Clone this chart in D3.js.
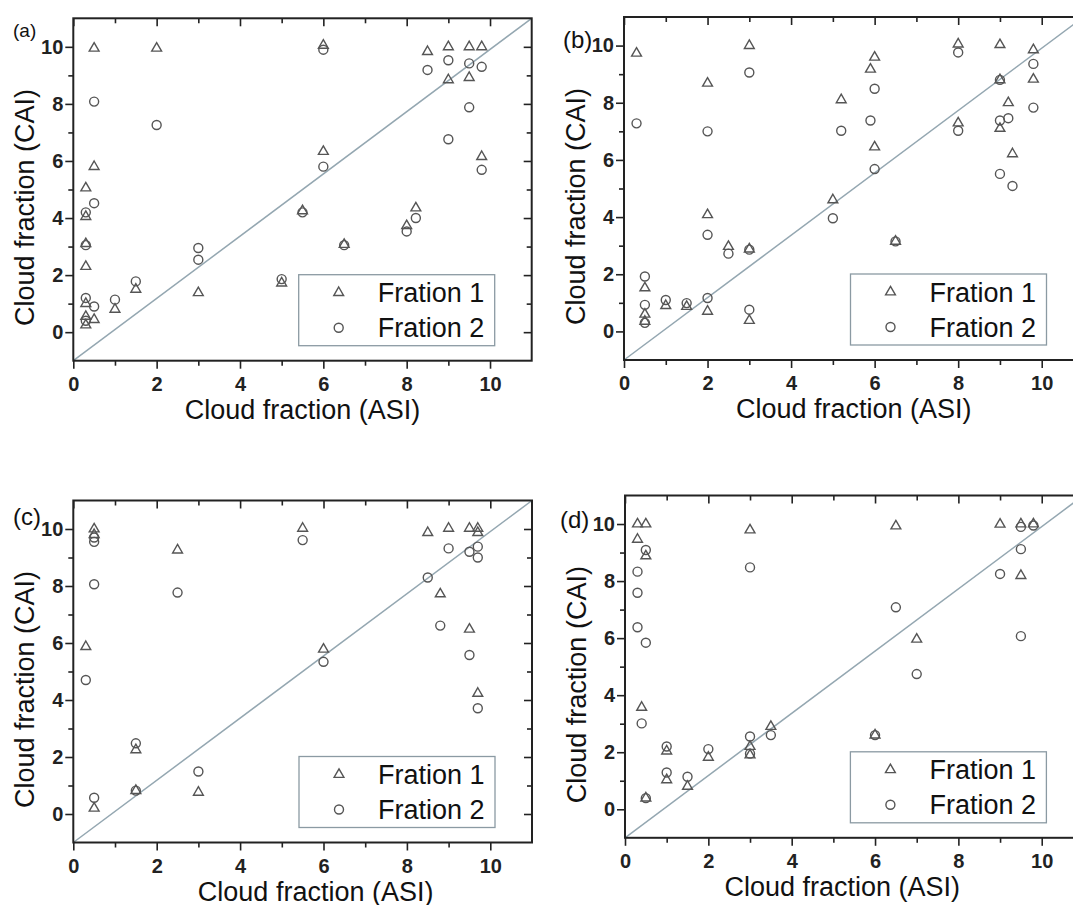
<!DOCTYPE html>
<html>
<head>
<meta charset="utf-8">
<script src="https://cdn.jsdelivr.net/npm/d3@7"></script>
<style>
  body { margin: 0; background: #fff; }
  svg { display: block; }
</style>
</head>
<body>
<svg id="chart" width="1073" height="905"></svg>
<script>
// axis setup shared by the four panels
const xDomain = [0, 11];
const yDomain = [-1, 11];
const majorTicks = [0, 2, 4, 6, 8, 10];
const minorTicks = [1, 3, 5, 7, 9];
const seriesNames = ["Fration 1", "Fration 2"];
const xTitle = "Cloud fraction (ASI)";
const yTitle = "Cloud fraction (CAI)";

// (a)
const aFration1 = [[0.3,5.05],[0.3,4.05],[0.3,3.1],[0.3,2.3],[0.3,1.0],[0.3,0.55],[0.3,0.25],[0.5,9.95],[0.5,5.8],[0.5,0.44],
  [1,0.8],[1.5,1.5],[2,9.95],[3,1.38],[5,1.72],[5.5,4.25],[6,10.05],[6,6.33],[6.5,3.07],[8,3.73],[8.22,4.35],[8.5,9.83],
  [9,10],[9,8.84],[9.5,10],[9.5,8.92],[9.8,10],[9.8,6.15]];
const aFration2 = [[0.3,4.2],[0.3,3.05],[0.3,1.2],[0.3,0.4],[0.5,8.08],[0.5,4.52],[0.5,0.9],[1,1.14],[1.5,1.78],[2,7.26],
  [3,2.95],[3,2.54],[5,1.86],[5.5,4.2],[6,9.9],[6,5.8],[6.5,3.05],[8,3.53],[8.22,4.0],[8.5,9.19],[9,9.53],[9,6.76],
  [9.5,9.42],[9.5,7.88],[9.8,9.3],[9.8,5.69]];

// (b)
const bFration1 = [[0.3,9.73],[0.5,1.52],[0.5,0.6],[0.5,0.35],[1,0.9],[1.5,0.87],[2,8.68],[2,4.08],[2,0.7],[2.5,2.97],
  [3,10.0],[3,2.88],[3,0.38],[5,4.6],[5.2,8.1],[5.9,9.17],[6,9.59],[6,6.45],[6.5,3.15],[8,10.05],[8,7.29],[9,10.03],
  [9,8.8],[9,7.1],[9.2,8.0],[9.3,6.21],[9.8,9.85],[9.8,8.82]];
const bFration2 = [[0.3,7.28],[0.5,1.92],[0.5,0.93],[0.5,0.3],[1,1.1],[1.5,0.99],[2,7.0],[2,3.38],[2,1.17],[2.5,2.72],
  [3,9.06],[3,2.86],[3,0.76],[5,3.96],[5.2,7.02],[5.9,7.38],[6,8.49],[6,5.68],[6.5,3.15],[8,9.76],[8,7.02],[9,8.8],
  [9,7.38],[9,5.51],[9.2,7.46],[9.3,5.09],[9.8,9.36],[9.8,7.83]];

// (c)
const cFration1 = [[0.3,5.87],[0.5,10.0],[0.5,9.8],[0.5,0.2],[1.5,2.25],[1.5,0.82],[2.5,9.26],[3,0.76],[5.5,10.02],
  [6,5.78],[8.5,9.87],[8.8,7.72],[9,10.02],[9.5,10.02],[9.5,6.48],[9.7,10.02],[9.7,9.87],[9.7,4.23]];
const cFration2 = [[0.3,4.7],[0.5,9.7],[0.5,9.55],[0.5,8.06],[0.5,0.57],[1.5,2.48],[1.5,0.82],[2.5,7.77],[3,1.49],
  [5.5,9.61],[6,5.34],[8.5,8.3],[8.8,6.61],[9,9.32],[9.5,9.2],[9.5,5.58],[9.7,9.38],[9.7,9.0],[9.7,3.71]];

// (d)
const dFration1 = [[0.3,10.0],[0.5,10.0],[0.3,9.46],[0.5,8.88],[0.4,3.57],[0.5,0.39],[1,2.04],[1,1.03],[1.5,0.8],[2,1.82],
  [3,9.79],[3,2.2],[3,1.9],[3.5,2.9],[6,2.6],[6.5,9.93],[7,5.96],[9,9.99],[9.5,10.0],[9.5,8.19],[9.8,10.0]];
const dFration2 = [[0.3,8.33],[0.3,7.59],[0.3,6.38],[0.5,9.09],[0.5,5.84],[0.4,3.01],[0.5,0.39],[1,2.2],[1,1.29],[1.5,1.14],
  [2,2.11],[3,8.48],[3,2.55],[3,1.95],[3.5,2.6],[6,2.6],[6.5,7.08],[7,4.74],[9,8.25],[9.5,9.9],[9.5,9.12],[9.5,6.07],[9.8,9.95]];

// where each panel sits on the page
const panels = [
  { label: "(a)", f1: aFration1, f2: aFration2, left: 73.3, top: 18.3, w: 458.4, h: 342.4, lx: 13, ly: 37, lsize: 19, tdx: 0 },
  { label: "(b)", f1: bFration1, f2: bFration2, left: 624, top: 17, w: 459.5, h: 343, lx: 563, ly: 48, lsize: 24, tdx: 0 },
  { label: "(c)", f1: cFration1, f2: cFration2, left: 73.3, top: 500.5, w: 458.7, h: 342, lx: 13, ly: 525, lsize: 24, tdx: 13 },
  { label: "(d)", f1: dFration1, f2: dFration2, left: 625, top: 495.5, w: 458.4, h: 342.3, lx: 560, ly: 528, lsize: 24, tdx: -12 }
];

const font = "'Liberation Sans', Arial, sans-serif";
const ink = "#222";
const markColor = "#555";
const tri = d3.symbol().type(d3.symbolTriangle).size(42);

const svg = d3.select("#chart").attr("font-family", font);

panels.forEach(p => {
  const x = d3.scaleLinear().domain(xDomain).range([p.left, p.left + p.w]);
  const y = d3.scaleLinear().domain(yDomain).range([p.top + p.h, p.top]);
  const g = svg.append("g");
  const bottom = p.top + p.h, right = p.left + p.w;

  // reference line, corner to corner
  g.append("line")
    .attr("x1", x(xDomain[0])).attr("y1", y(yDomain[0]))
    .attr("x2", x(xDomain[1])).attr("y2", y(yDomain[1]))
    .attr("stroke", "#94a7b1").attr("stroke-width", 1.5);

  // ticks
  const axisStyle = sel => {
    sel.select(".domain").remove();
    sel.selectAll("line").attr("stroke", ink).attr("stroke-width", 1.6);
    sel.selectAll("text").attr("fill", ink).attr("font-size", 20).attr("font-weight", "bold").attr("font-family", font);
  };
  g.append("g").attr("transform", `translate(0,${bottom})`)
    .call(d3.axisBottom(x).tickValues(majorTicks).tickSize(8).tickPadding(8).tickFormat(d3.format("d")))
    .call(axisStyle);
  g.append("g").attr("transform", `translate(0,${bottom})`)
    .call(d3.axisBottom(x).tickValues(minorTicks).tickSize(5).tickFormat(""))
    .call(axisStyle);
  g.append("g").attr("transform", `translate(${p.left},0)`)
    .call(d3.axisLeft(y).tickValues(majorTicks).tickSize(8).tickPadding(2).tickFormat(d3.format("d")))
    .call(axisStyle);
  g.append("g").attr("transform", `translate(${p.left},0)`)
    .call(d3.axisLeft(y).tickValues(minorTicks).tickSize(5).tickFormat(""))
    .call(axisStyle);
  // mirrored ticks, pointing in
  g.append("g").attr("transform", `translate(0,${p.top})`)
    .call(d3.axisTop(x).tickValues(majorTicks).tickSize(-8).tickFormat(""))
    .call(axisStyle);
  g.append("g").attr("transform", `translate(0,${p.top})`)
    .call(d3.axisTop(x).tickValues(minorTicks).tickSize(-5).tickFormat(""))
    .call(axisStyle);
  g.append("g").attr("transform", `translate(${right},0)`)
    .call(d3.axisRight(y).tickValues(majorTicks).tickSize(-8).tickFormat(""))
    .call(axisStyle);
  g.append("g").attr("transform", `translate(${right},0)`)
    .call(d3.axisRight(y).tickValues(minorTicks).tickSize(-5).tickFormat(""))
    .call(axisStyle);

  // frame
  g.append("rect")
    .attr("x", p.left).attr("y", p.top).attr("width", p.w).attr("height", p.h)
    .attr("fill", "none").attr("stroke", ink).attr("stroke-width", 2);

  // points
  g.append("g").selectAll("path").data(p.f1).join("path")
    .attr("d", tri)
    .attr("transform", d => `translate(${x(d[0])},${y(d[1])})`)
    .attr("fill", "none").attr("stroke", markColor).attr("stroke-width", 1.4);
  g.append("g").selectAll("circle").data(p.f2).join("circle")
    .attr("cx", d => x(d[0])).attr("cy", d => y(d[1])).attr("r", 4.5)
    .attr("fill", "none").attr("stroke", markColor).attr("stroke-width", 1.4);

  // legend
  const lgW = 196, lgH = 71;
  const lg = g.append("g").attr("transform", `translate(${right - 37 - lgW},${bottom - 15 - lgH})`);
  lg.append("rect").attr("width", lgW).attr("height", lgH)
    .attr("fill", "#fff").attr("stroke", "#8b9aa3").attr("stroke-width", 1.3);
  lg.append("path").attr("d", tri).attr("transform", "translate(40,18)")
    .attr("fill", "none").attr("stroke", markColor).attr("stroke-width", 1.4);
  lg.append("circle").attr("cx", 40).attr("cy", 53).attr("r", 4.5)
    .attr("fill", "none").attr("stroke", markColor).attr("stroke-width", 1.4);
  lg.selectAll("text").data(seriesNames).join("text")
    .attr("x", 79).attr("y", (d, i) => 18 + i * 35 + 9.5)
    .attr("font-size", 27).attr("fill", "#111")
    .text(d => d);

  // titles
  g.append("text")
    .attr("x", (p.left + right) / 2 + p.tdx).attr("y", bottom + 58)
    .attr("text-anchor", "middle").attr("font-size", 27).attr("fill", "#111")
    .text(xTitle);
  g.append("text")
    .attr("transform", `translate(${p.left - 39},${(p.top + bottom) / 2 + 18}) rotate(-90)`)
    .attr("text-anchor", "middle").attr("font-size", 27).attr("fill", "#111")
    .text(yTitle);

  g.append("text")
    .attr("x", p.lx).attr("y", p.ly)
    .attr("font-size", p.lsize).attr("fill", "#111")
    .text(p.label);
});
</script>
</body>
</html>
